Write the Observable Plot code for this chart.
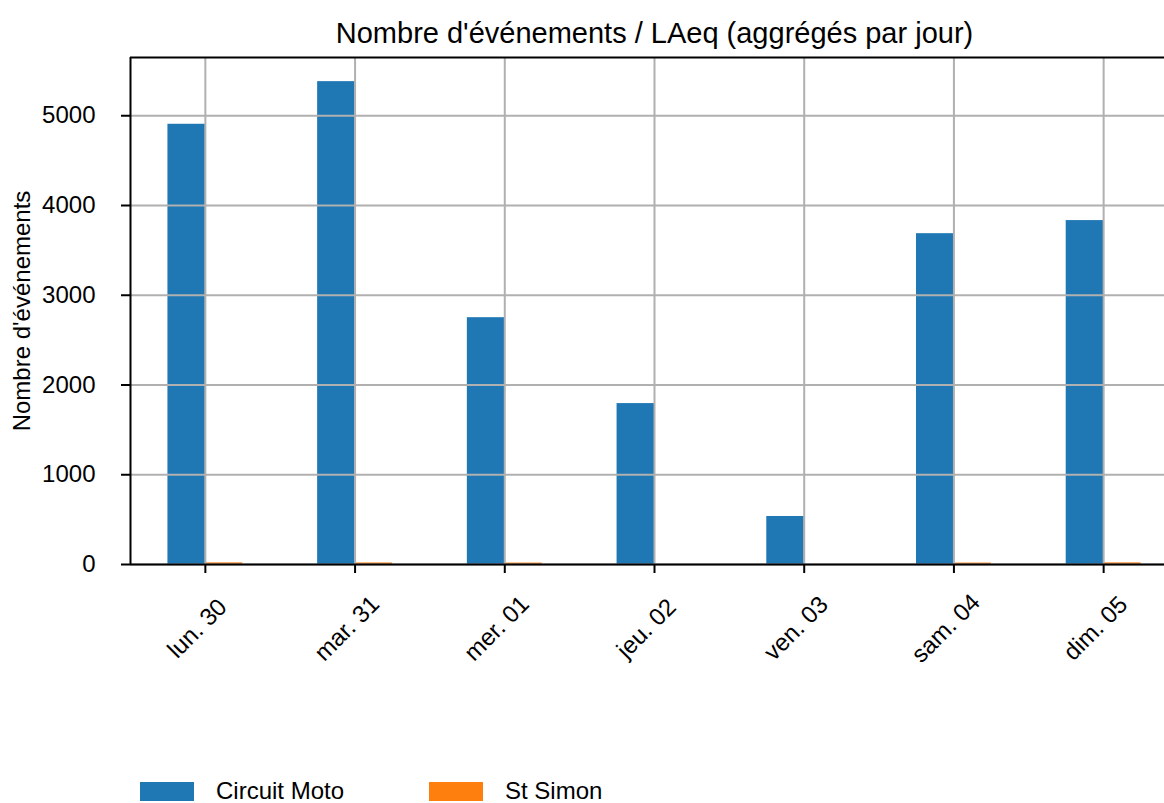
<!DOCTYPE html>
<html><head><meta charset="utf-8">
<script src="https://cdn.jsdelivr.net/npm/d3@7"></script>
<script src="https://cdn.jsdelivr.net/npm/@observablehq/plot@0.6"></script>
<style>
body{margin:0;background:#fff;font-family:"Liberation Sans",Arial,sans-serif;color:#000;}
#wrap{position:relative;width:1164px;height:803px;overflow:hidden;}
#chart{position:absolute;left:0;top:0;}
.sw{position:absolute;width:54px;height:19px;top:782px;}
.lt{position:absolute;top:780px;font-size:24px;line-height:22px;height:22px;}
</style></head>
<body><div id="wrap"><div id="chart"></div><div id="legend"></div></div>
<script>
const days = ["lun. 30","mar. 31","mer. 01","jeu. 02","ven. 03","sam. 04","dim. 05"];
const seriesNames = ["Circuit Moto","St Simon"];
const circuitMoto = [4905, 5380, 2750, 1793, 535, 3686, 3832];
const stSimon = [18, 17, 16, 0, 0, 16, 18];
const colors = ["#1f77b4","#ff7f0e"];
const yTicks = [0,1000,2000,3000,4000,5000];
const title = "Nombre d'événements / LAeq (aggrégés par jour)";
const yLabel = "Nombre d'événements";

const idx = d3.range(days.length);
const rows = idx.flatMap(i => [
  {i, s:0, v: circuitMoto[i]},
  {i, s:1, v: stSimon[i]}
]);
const yMax = d3.max(circuitMoto) * 1.05;

const chart = Plot.plot({
  width: 1164, height: 775,
  marginTop: 57, marginBottom: 211, marginLeft: 130, marginRight: 0,
  x: {domain: [-0.5, 6.5], range: [130, 1178]},
  y: {domain: [0, yMax]},
  style: {fontFamily: '"Liberation Sans", Arial, sans-serif', fontSize: "24px", color: "#000", background: "#fff"},
  marks: [
    Plot.rect(rows, {x1: d => d.i - 0.25 + d.s * 0.25, x2: d => d.i + d.s * 0.25, y1: 0, y2: "v", fill: d => colors[d.s]}),
    Plot.gridX(idx, {stroke: "#b0b0b0", strokeOpacity: 1, strokeWidth: 2}),
    Plot.gridY(yTicks, {stroke: "#b0b0b0", strokeOpacity: 1, strokeWidth: 2}),
    Plot.axisY(yTicks, {tickSize: 9, tickPadding: 26, label: null, strokeWidth: 2, fontSize: 24, tickFormat: d => String(d)}),
    Plot.axisX(idx, {tickSize: 9, label: null, strokeWidth: 2, tickFormat: () => ""}),
    Plot.text(idx, {x: d => d, text: d => days[d], rotate: -45, frameAnchor: "bottom", textAnchor: "middle", lineAnchor: "middle", dy: 64, dx: -8, fontSize: 24}),
    Plot.ruleY([0], {stroke: "#000", strokeWidth: 2}),
    Plot.ruleY([yMax], {stroke: "#000", strokeWidth: 2}),
    Plot.ruleX([-0.5], {stroke: "#000", strokeWidth: 2}),
    Plot.text([title], {x: 3, frameAnchor: "top", lineAnchor: "middle", dy: -24, fontSize: 29}),
    Plot.text([yLabel], {frameAnchor: "left", dx: -108, rotate: -90, textAnchor: "middle", lineAnchor: "middle", fontSize: 24})
  ]
});
document.getElementById("chart").appendChild(chart);

const legend = document.getElementById("legend");
const lx = [140, 429];
seriesNames.forEach((n, k) => {
  const sw = document.createElement("div");
  sw.className = "sw"; sw.style.left = lx[k] + "px"; sw.style.background = colors[k];
  const t = document.createElement("div");
  t.className = "lt"; t.style.left = (lx[k] + 76) + "px"; t.textContent = n;
  legend.appendChild(sw); legend.appendChild(t);
});
</script></body></html>
